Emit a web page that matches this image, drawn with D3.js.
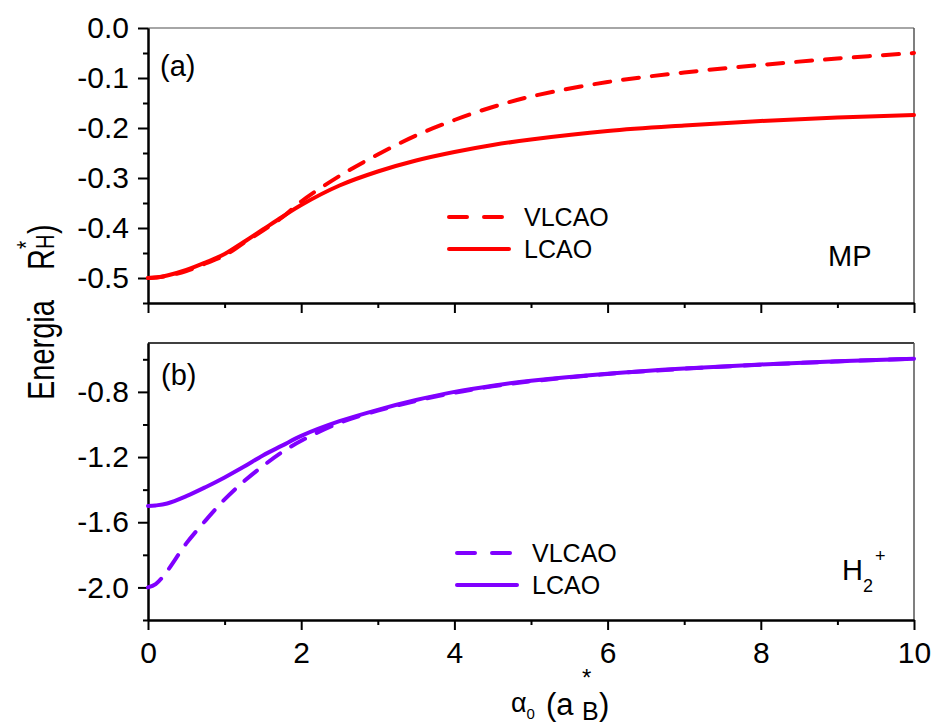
<!DOCTYPE html>
<html>
<head>
  <meta charset="utf-8">
  <style>
    body { margin: 0; background: #fff; }
    svg { font-family: "Liberation Sans", Arial, sans-serif; }
    .axis path, .axis line { stroke: #000; stroke-width: 2; fill: none; }
  </style>
  <script src="https://d3js.org/d3.v7.min.js"></script>
</head>
<body>
  <script>
    // data
    var xVals = [0, 0.1, 0.25, 0.5, 0.75, 1, 1.25, 1.5, 1.75, 2, 2.5, 3, 3.5, 4, 4.5, 5, 6, 7, 8, 9, 10];

    // (a) MP
    var mpLCAO  = [-0.5, -0.499, -0.495, -0.484, -0.469, -0.452, -0.428, -0.403, -0.378, -0.354, -0.315, -0.287, -0.265, -0.248, -0.234, -0.223, -0.206, -0.195, -0.186, -0.179, -0.174];
    var mpVLCAO = [-0.5, -0.499, -0.496, -0.486, -0.471, -0.455, -0.430, -0.405, -0.379, -0.347, -0.296, -0.253, -0.215, -0.184, -0.158, -0.137, -0.108, -0.089, -0.074, -0.061, -0.050];

    // (b) H2+
    var h2LCAO  = [-1.5, -1.497, -1.485, -1.44, -1.385, -1.325, -1.26, -1.19, -1.13, -1.07, -0.98, -0.91, -0.85, -0.80, -0.762, -0.732, -0.688, -0.656, -0.632, -0.612, -0.596];
    var h2VLCAO = [-2.0, -1.98, -1.90, -1.73, -1.59, -1.46, -1.35, -1.255, -1.17, -1.10, -0.99, -0.915, -0.855, -0.805, -0.766, -0.735, -0.690, -0.658, -0.633, -0.613, -0.597];

    var xMajor = [0, 2, 4, 6, 8, 10];
    var xMinor = [1, 3, 5, 7, 9];
    var yMajorA = [0.0, -0.1, -0.2, -0.3, -0.4, -0.5];
    var yMinorA = [-0.05, -0.15, -0.25, -0.35, -0.45, -0.55];
    var yMajorB = [-0.8, -1.2, -1.6, -2.0];
    var yMinorB = [-0.6, -1.0, -1.4, -1.8, -2.2];

    var RED = "#ff0000";
    var PURPLE = "#8000ff";

    var W = 932, H = 726;
    var svg = d3.select("body").append("svg")
      .attr("width", W)
      .attr("height", H);

    var x = d3.scaleLinear().domain([0, 10]).range([148, 914]);
    var yA = d3.scaleLinear().domain([-0.55, 0]).range([303, 28]);
    var yB = d3.scaleLinear().domain([-2.2, -0.5]).range([620, 343]);

    var fmt = function(d) { return d.toFixed(1); };

    function styleTicks(g) {
      g.selectAll("text")
        .style("font-size", "30px")
        .style("font-family", "'Liberation Sans', Arial, sans-serif")
        .attr("fill", "#000");
    }

    function drawPanel(y, majors, minors, showX) {
      var top = y.range()[1], bottom = y.range()[0];

      // frame (top and right)
      svg.append("line")
        .attr("x1", x(0)).attr("x2", x(10))
        .attr("y1", top).attr("y2", top)
        .attr("stroke", top < 40 ? "#888" : "#000")
        .attr("stroke-width", 1.5);
      svg.append("line")
        .attr("x1", x(10)).attr("x2", x(10))
        .attr("y1", top).attr("y2", bottom)
        .attr("stroke", "#555")
        .attr("stroke-width", 1.5);

      svg.append("g")
        .attr("class", "axis")
        .attr("transform", "translate(" + x(0) + ",0)")
        .call(d3.axisLeft(y).tickValues(minors).tickSize(5).tickSizeOuter(0).tickFormat(""));
      svg.append("g")
        .attr("class", "axis")
        .attr("transform", "translate(" + x(0) + ",0)")
        .call(d3.axisLeft(y).tickValues(majors).tickSize(10).tickSizeOuter(0).tickPadding(9).tickFormat(fmt))
        .call(styleTicks);

      svg.append("g")
        .attr("class", "axis")
        .attr("transform", "translate(0," + bottom + ")")
        .call(d3.axisBottom(x).tickValues(xMinor).tickSize(5).tickSizeOuter(0).tickFormat(""));
      svg.append("g")
        .attr("class", "axis")
        .attr("transform", "translate(0," + bottom + ")")
        .call(d3.axisBottom(x).tickValues(xMajor).tickSize(10).tickSizeOuter(0).tickPadding(12)
          .tickFormat(showX ? d3.format("d") : ""))
        .call(styleTicks);
    }

    function drawCurve(y, values, color, dashed) {
      var line = d3.line()
        .x(function(d, i) { return x(xVals[i]); })
        .y(function(d) { return y(d); })
        .curve(d3.curveCatmullRom.alpha(0.5));
      svg.append("path")
        .datum(values)
        .attr("d", line)
        .attr("fill", "none")
        .attr("stroke", color)
        .attr("stroke-width", 4)
        .attr("stroke-linecap", "round")
        .attr("stroke-dasharray", dashed ? "16,13" : null);
    }

    function drawLegend(x0, y0, color) {
      var items = [["VLCAO", true], ["LCAO", false]];
      items.forEach(function(it, i) {
        var yy = y0 + i * 32;
        svg.append("line")
          .attr("x1", x0).attr("x2", x0 + 60)
          .attr("y1", yy).attr("y2", yy)
          .attr("stroke", color)
          .attr("stroke-width", 4)
          .attr("stroke-linecap", "round")
          .attr("stroke-dasharray", it[1] ? "18,17" : null);
        svg.append("text")
          .attr("x", x0 + 75).attr("y", yy + 9)
          .attr("font-size", 25)
          .text(it[0]);
      });
    }

    drawPanel(yA, yMajorA, yMinorA, false);
    drawPanel(yB, yMajorB, yMinorB, true);

    drawCurve(yA, mpLCAO, RED, false);
    drawCurve(yA, mpVLCAO, RED, true);
    drawCurve(yB, h2LCAO, PURPLE, false);
    drawCurve(yB, h2VLCAO, PURPLE, true);

    drawLegend(449, 217, RED);
    drawLegend(457, 553, PURPLE);

    // panel labels
    svg.append("text").attr("x", 160).attr("y", 76).attr("font-size", 29).text("(a)");
    svg.append("text").attr("x", 161).attr("y", 385).attr("font-size", 29).text("(b)");
    svg.append("text").attr("x", 828).attr("y", 266).attr("font-size", 29).text("MP");

    var h2 = svg.append("text").attr("x", 842).attr("y", 580).attr("font-size", 29);
    h2.append("tspan").text("H");
    h2.append("tspan").attr("font-size", 18).attr("dy", 12).text("2");
    h2.append("tspan").attr("font-size", 18).attr("dx", 2).attr("dy", -30).text("+");

    // y axis title
    var yt = svg.append("text")
      .attr("transform", "translate(54,400) rotate(-90) scale(1,1.25)")
      .attr("font-size", 29);
    yt.append("tspan").text("Energia");
    yt.append("tspan").attr("x", 130).text("R");
    yt.append("tspan").attr("x", 151).attr("dy", -15).attr("font-size", 21).text("*");
    yt.append("tspan").attr("x", 151).attr("dy", 15).attr("font-size", 20).text("H");
    yt.append("tspan").attr("x", 166).text(")");

    // x axis title
    var xt = svg.append("text").attr("x", 511).attr("y", 712).attr("font-size", 27);
    xt.append("tspan").text("\u03b1");
    xt.append("tspan").attr("font-size", 15).attr("dy", 7).text("0");
    xt.append("tspan").attr("x", 546).attr("dy", -4).attr("font-size", 31).text("(a");
    xt.append("tspan").attr("x", 582).attr("dy", -29).attr("font-size", 24).text("*");
    xt.append("tspan").attr("x", 582).attr("dy", 34).attr("font-size", 25).text("B");
    xt.append("tspan").attr("x", 599).attr("dy", -5).attr("font-size", 31).text(")");
  </script>
</body>
</html>
